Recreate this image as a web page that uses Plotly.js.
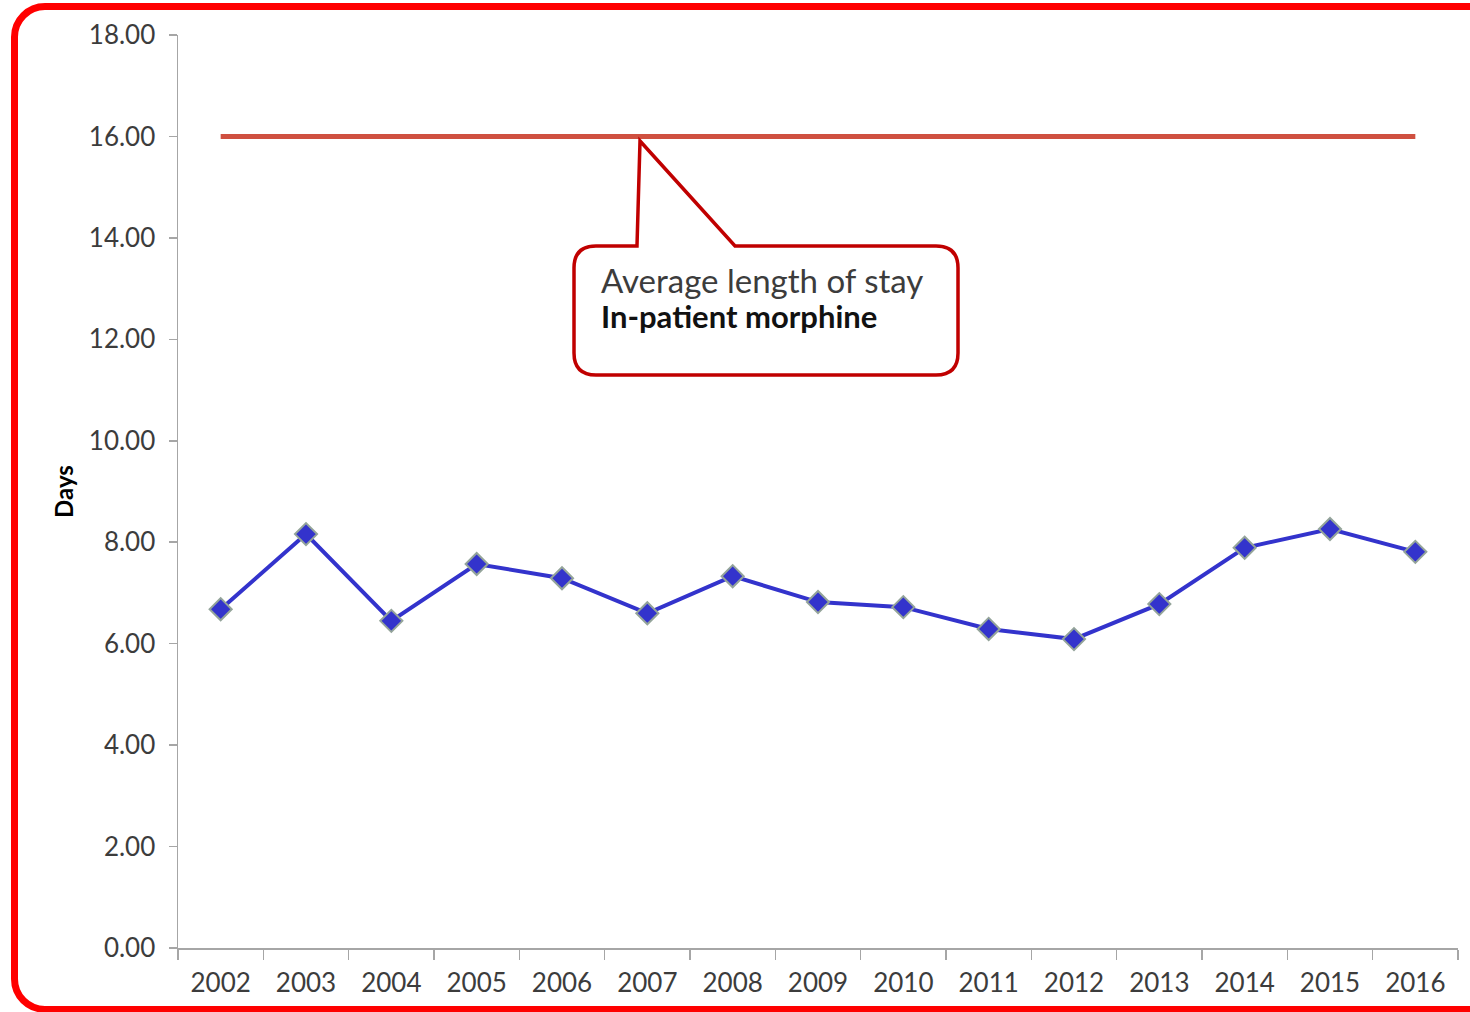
<!DOCTYPE html>
<html>
<head>
<meta charset="utf-8">
<script src="https://cdn.plot.ly/plotly-3.0.1.min.js"></script>
<style>
  html, body { margin: 0; padding: 0; background: #ffffff; overflow: hidden; width: 1470px; height: 1012px; }
  #frame { position: absolute; left: 11px; top: 3px; width: 1530px; height: 1010px; box-sizing: border-box;
           border: 7px solid #ff0000; border-radius: 34px; pointer-events: none; z-index: 2; }
  #chart { position: absolute; left: 0; top: 0; width: 1470px; height: 1012px; z-index: 1; }
</style>
</head>
<body>
<div id="chart"></div>
<div id="frame"></div>
<script>
// ---- data ----
const years = ["2002","2003","2004","2005","2006","2007","2008","2009","2010","2011","2012","2013","2014","2015","2016"];
const morphineStay = [6.68, 8.16, 6.45, 7.57, 7.29, 6.60, 7.33, 6.82, 6.72, 6.29, 6.09, 6.78, 7.89, 8.26, 7.81];
const averageStay = [16, 16, 16, 16, 16, 16, 16, 16, 16, 16, 16, 16, 16, 16, 16];
const yTickVals = [0, 2, 4, 6, 8, 10, 12, 14, 16, 18];
const yTickText = ["0.00","2.00","4.00","6.00","8.00","10.00","12.00","14.00","16.00","18.00"];
const calloutLine1 = "Average length of stay";
const calloutLine2 = "In-patient morphine";
const yAxisTitle = "Days";

// ---- layout geometry (pixels) ----
const W = 1470, H = 1012;
const M = { l: 178, r: 12, t: 35, b: 64 };
const pw = W - M.l - M.r, ph = H - M.t - M.b;
const px = x => (x - M.l) / pw;
const py = y => (H - M.b - y) / ph;

// callout path in pixel space, converted to paper coordinates
const L = 574, R = 958, T = 246, B = 375, r = 22;
const pts = [
  ['M', 637, T], ['L', 640, 141], ['L', 735, T], ['L', R - r, T],
  ['Q', R, T, R, T + r], ['L', R, B - r], ['Q', R, B, R - r, B],
  ['L', L + r, B], ['Q', L, B, L, B - r], ['L', L, T + r], ['Q', L, T, L + r, T]
];
let path = '';
pts.forEach(p => {
  path += p[0] + ' ';
  for (let i = 1; i < p.length; i += 2) path += px(p[i]).toFixed(5) + ',' + py(p[i+1]).toFixed(5) + ' ';
});
path += 'Z';

const FONT = 'Lato, "DejaVu Sans", sans-serif';
const TXT = '#3c3c3c';

const traces = [
  {
    x: years, y: averageStay, type: 'scatter', mode: 'lines',
    line: { color: '#cf5040', width: 5 }, hoverinfo: 'skip', showlegend: false
  },
  {
    x: years, y: morphineStay, type: 'scatter', mode: 'lines+markers',
    line: { color: '#3333cc', width: 4 },
    marker: { symbol: 'diamond', size: 17, color: '#3333cc', line: { color: '#94a49a', width: 2 } },
    showlegend: false
  }
];

const layout = {
  width: W, height: H,
  margin: M,
  paper_bgcolor: '#ffffff', plot_bgcolor: '#ffffff',
  font: { family: FONT, color: TXT, size: 24 },
  showlegend: false,
  xaxis: {
    type: 'category', range: [-0.5, 14.5],
    showgrid: false, zeroline: false,
    showline: true, linecolor: '#a6a6a6', linewidth: 1.5,
    ticks: 'outside', tickson: 'boundaries', ticklen: 10, tickcolor: '#a6a6a6', tickwidth: 1.5,
    ticklabelstandoff: 11,
    tickfont: { family: FONT, size: 26, color: TXT },
    fixedrange: true
  },
  yaxis: {
    range: [0, 18], tickvals: yTickVals, ticktext: yTickText,
    showgrid: false, zeroline: false,
    showline: true, linecolor: '#a6a6a6', linewidth: 1.5,
    ticks: 'outside', ticklen: 8, tickcolor: '#a6a6a6', tickwidth: 1.5,
    ticklabelstandoff: 8,
    tickfont: { family: FONT, size: 26, color: TXT },
    title: { text: '<b>' + yAxisTitle + '</b>', font: { family: FONT, size: 24, color: '#000000' }, standoff: 8 },
    fixedrange: true
  },
  shapes: [
    { type: 'path', xref: 'paper', yref: 'paper', path: path,
      line: { color: '#c00000', width: 3.5 }, fillcolor: '#ffffff', layer: 'above' }
  ],
  annotations: [
    { xref: 'paper', yref: 'paper', x: px(599), y: py(258), xanchor: 'left', yanchor: 'top',
      showarrow: false, align: 'left',
      text: '<span style="font-size:33px;color:' + TXT + '">' + calloutLine1 + '</span><br><span style="font-size:31px"><b>' + calloutLine2 + '</b></span>',
      font: { family: FONT, size: 27, color: '#111111' } }
  ]
};

Plotly.newPlot('chart', traces, layout, { displayModeBar: false, staticPlot: true });
</script>
</body>
</html>
